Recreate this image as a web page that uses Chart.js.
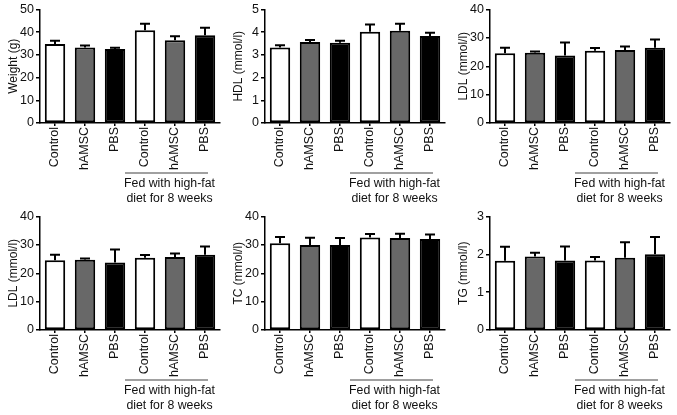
<!DOCTYPE html>
<html>
<head>
<meta charset="utf-8">
<script src="https://cdn.jsdelivr.net/npm/chart.js@4.4.1/dist/chart.umd.min.js"></script>
<style>
  body { margin: 0; background: #fff; }
  #wrap { position: relative; width: 677px; height: 415px; }
  #wrap canvas { position: absolute; }
</style>
</head>
<body>
<div id="wrap">
  <canvas id="cWeight" width="225" height="205" style="left:0px;top:0px"></canvas>
  <canvas id="cHdl" width="225" height="205" style="left:225px;top:0px"></canvas>
  <canvas id="cLdl1" width="225" height="205" style="left:450px;top:0px"></canvas>
  <canvas id="cLdl2" width="225" height="205" style="left:0px;top:207px"></canvas>
  <canvas id="cTc" width="225" height="205" style="left:225px;top:207px"></canvas>
  <canvas id="cTg" width="225" height="205" style="left:450px;top:207px"></canvas>
</div>
<script>
// groups along the x axis
const groups = ["Control", "hAMSC", "PBS", "Control", "hAMSC", "PBS"];
const groupNote = ["Fed with high-fat", "diet for 8 weeks"];

// means and upper error (SD)
const weightMean = [34.8, 33.3, 32.6, 40.9, 36.4, 38.7];
const weightErr  = [1.4, 0.8, 0.6, 2.8, 1.8, 3.3];
const hdlMean = [3.33, 3.57, 3.53, 4.02, 4.06, 3.83];
const hdlErr  = [0.10, 0.09, 0.09, 0.32, 0.31, 0.15];
const ldlMean = [24.6, 24.8, 23.8, 25.5, 25.7, 26.5];
const ldlErr  = [1.9, 0.4, 4.6, 0.9, 1.3, 2.9];
const tcMean = [30.6, 30.0, 30.0, 32.6, 32.4, 32.1];
const tcErr  = [2.2, 2.5, 2.4, 1.2, 1.5, 1.6];
const tgMean = [1.83, 1.94, 1.84, 1.84, 1.91, 2.00];
const tgErr  = [0.37, 0.10, 0.37, 0.09, 0.41, 0.46];

const barColors = ["#ffffff", "#686868", "#000000", "#ffffff", "#686868", "#000000"];

Chart.defaults.font.family = "'Liberation Sans', Arial, sans-serif";
Chart.defaults.font.size = 12.5;
Chart.defaults.color = "#111";

// upper error bars with a cap
const errorBars = {
  id: "errorBars",
  afterDatasetsDraw(chart) {
    const ctx = chart.ctx;
    const ds = chart.data.datasets[0];
    const y = chart.scales.y;
    ctx.save();
    ctx.strokeStyle = "#000";
    ctx.lineWidth = 2;
    chart.getDatasetMeta(0).data.forEach((bar, i) => {
      const top = y.getPixelForValue(ds.data[i] + ds.errors[i]);
      ctx.beginPath();
      ctx.moveTo(bar.x, bar.y);
      ctx.lineTo(bar.x, top);
      ctx.moveTo(bar.x - 5, top);
      ctx.lineTo(bar.x + 5, top);
      ctx.stroke();
    });
    ctx.restore();
  }
};

// bracket under the high-fat groups
const groupLabel = {
  id: "groupLabel",
  afterDraw(chart) {
    const ctx = chart.ctx;
    const x = chart.scales.x;
    const x0 = x.getPixelForValue(3) - 20;
    const x1 = x.getPixelForValue(5) + 3;
    const ly = chart.chartArea.bottom + 50;
    ctx.save();
    ctx.strokeStyle = "#808080";
    ctx.lineWidth = 1.5;
    ctx.beginPath();
    ctx.moveTo(x0, ly);
    ctx.lineTo(x1, ly);
    ctx.stroke();
    ctx.fillStyle = "#111";
    ctx.font = "12.3px 'Liberation Sans', Arial, sans-serif";
    ctx.textAlign = "center";
    ctx.textBaseline = "middle";
    const cx = (x0 + x1) / 2 + 3;
    ctx.fillText(groupNote[0], cx, ly + 11);
    ctx.fillText(groupNote[1], cx, ly + 26);
    ctx.restore();
  }
};

function makePanel(id, title, mean, err, max, step) {
  new Chart(document.getElementById(id), {
    type: "bar",
    data: {
      labels: groups,
      datasets: [{
        data: mean,
        errors: err,
        backgroundColor: barColors,
        borderColor: "#000",
        borderWidth: 2,
        borderSkipped: false,
        barPercentage: 0.68,
        categoryPercentage: 1,
      }],
    },
    options: {
      responsive: false,
      animation: false,
      layout: { padding: { top: 9, right: 5, left: 0, bottom: 0 } },
      plugins: { legend: { display: false }, tooltip: { enabled: false } },
      scales: {
        x: {
          afterFit: s => { s.height = 82; },
          grid: { display: true, drawOnChartArea: false, offset: false, tickLength: 3, color: "#000", lineWidth: 1.5 },
          border: { display: true, color: "#000", width: 1.5 },
          ticks: { minRotation: 90, maxRotation: 90, padding: 1, autoSkip: false },
        },
        y: {
          min: 0,
          max: max,
          afterFit: s => { s.width = 40; },
          grid: { display: true, drawOnChartArea: false, tickLength: 4, color: "#000", lineWidth: 1.5 },
          border: { display: true, color: "#000", width: 1.5 },
          ticks: { stepSize: step, padding: 2 },
          title: { display: true, text: title, font: { size: 12 }, padding: { top: 6, bottom: 0 } },
        },
      },
    },
    plugins: [errorBars, groupLabel],
  });
}

makePanel("cWeight", "Weight (g)", weightMean, weightErr, 50, 10);
makePanel("cHdl", "HDL (mmol/l)", hdlMean, hdlErr, 5, 1);
makePanel("cLdl1", "LDL (mmol/l)", ldlMean, ldlErr, 40, 10);
makePanel("cLdl2", "LDL (mmol/l)", ldlMean, ldlErr, 40, 10);
makePanel("cTc", "TC (mmol/l)", tcMean, tcErr, 40, 10);
makePanel("cTg", "TG (mmol/l)", tgMean, tgErr, 3, 1);
</script>
</body>
</html>
